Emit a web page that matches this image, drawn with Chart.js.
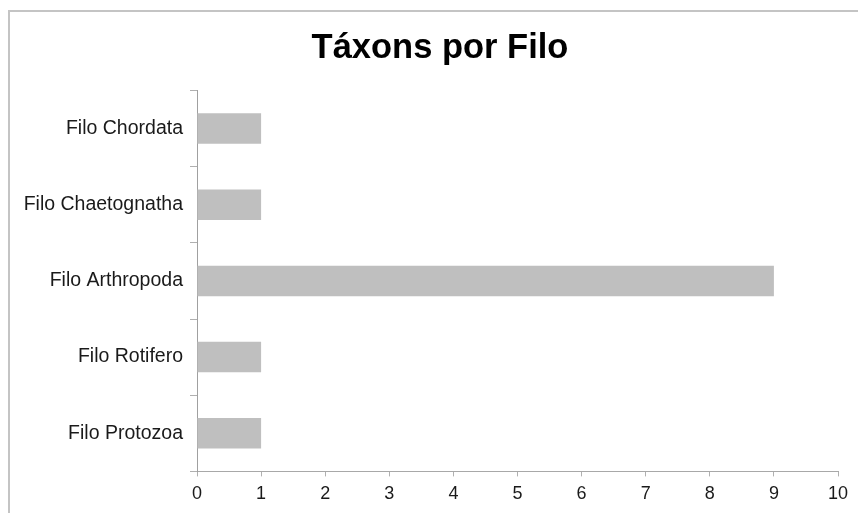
<!DOCTYPE html>
<html>
<head>
<meta charset="utf-8">
<script src="https://cdn.jsdelivr.net/npm/chart.js@4"></script>
<style>
html,body{margin:0;padding:0;background:#fff;overflow:hidden;}
#wrap{position:absolute;left:0;top:0;width:858px;height:513px;}
</style>
</head>
<body>
<div id="wrap"><canvas id="c" width="858" height="513"></canvas></div>
<script>
const chartTitle = "Táxons por Filo";
const categories = ["Filo Chordata", "Filo Chaetognatha", "Filo Arthropoda", "Filo Rotifero", "Filo Protozoa"];
const values = [1, 1, 9, 1, 1];
const xMin = 0, xMax = 10, xStep = 1;

const frame = {
  id: 'frame',
  afterLayout(chart) {
    if (chart.titleBlock) {
      chart.titleBlock.left += 16;
      chart.titleBlock.right += 16;
    }
  },
  beforeDraw(chart) {
    const ctx = chart.ctx;
    ctx.save();
    ctx.fillStyle = '#fff';
    ctx.fillRect(0, 0, chart.width, chart.height);
    ctx.strokeStyle = '#c4c4c4';
    ctx.lineWidth = 2;
    ctx.beginPath();
    ctx.moveTo(9, 513);
    ctx.lineTo(9, 11);
    ctx.lineTo(858, 11);
    ctx.stroke();
    ctx.restore();
  }
};

new Chart(document.getElementById('c'), {
  type: 'bar',
  data: {
    labels: categories,
    datasets: [{
      data: values,
      backgroundColor: '#bfbfbf',
      borderWidth: 0,
      categoryPercentage: 0.4,
      barPercentage: 1.0
    }]
  },
  options: {
    indexAxis: 'y',
    responsive: false,
    animation: false,
    layout: { padding: { left: 10, right: 20, top: 0, bottom: 1 } },
    plugins: {
      legend: { display: false },
      tooltip: { enabled: false },
      title: {
        display: true,
        text: chartTitle,
        color: '#000',
        font: { family: '"Liberation Sans", Arial, sans-serif', size: 34.5, weight: 'bold' },
        padding: { top: 28, bottom: 21 }
      }
    },
    scales: {
      x: {
        type: 'linear',
        min: xMin, max: xMax,
        ticks: {
          stepSize: xStep,
          color: '#1a1a1a',
          font: { family: '"Liberation Sans", Arial, sans-serif', size: 18 },
          padding: 7,
          maxRotation: 0
        },
        grid: { drawOnChartArea: false, drawTicks: true, tickLength: 5, color: '#b0b0b0' },
        border: { display: true, color: '#a8a8a8', width: 1 }
      },
      y: {
        type: 'category',
        offset: true,
        afterFit(scale) { scale.width = 187; },
        ticks: {
          color: '#1a1a1a',
          font: { family: '"Liberation Sans", Arial, sans-serif', size: 19.5 },
          padding: 7
        },
        grid: { offset: true, drawOnChartArea: false, drawTicks: true, tickLength: 7, color: '#b0b0b0' },
        border: { display: true, color: '#a0a0a0', width: 1 }
      }
    }
  },
  plugins: [frame]
});
</script>
</body>
</html>
